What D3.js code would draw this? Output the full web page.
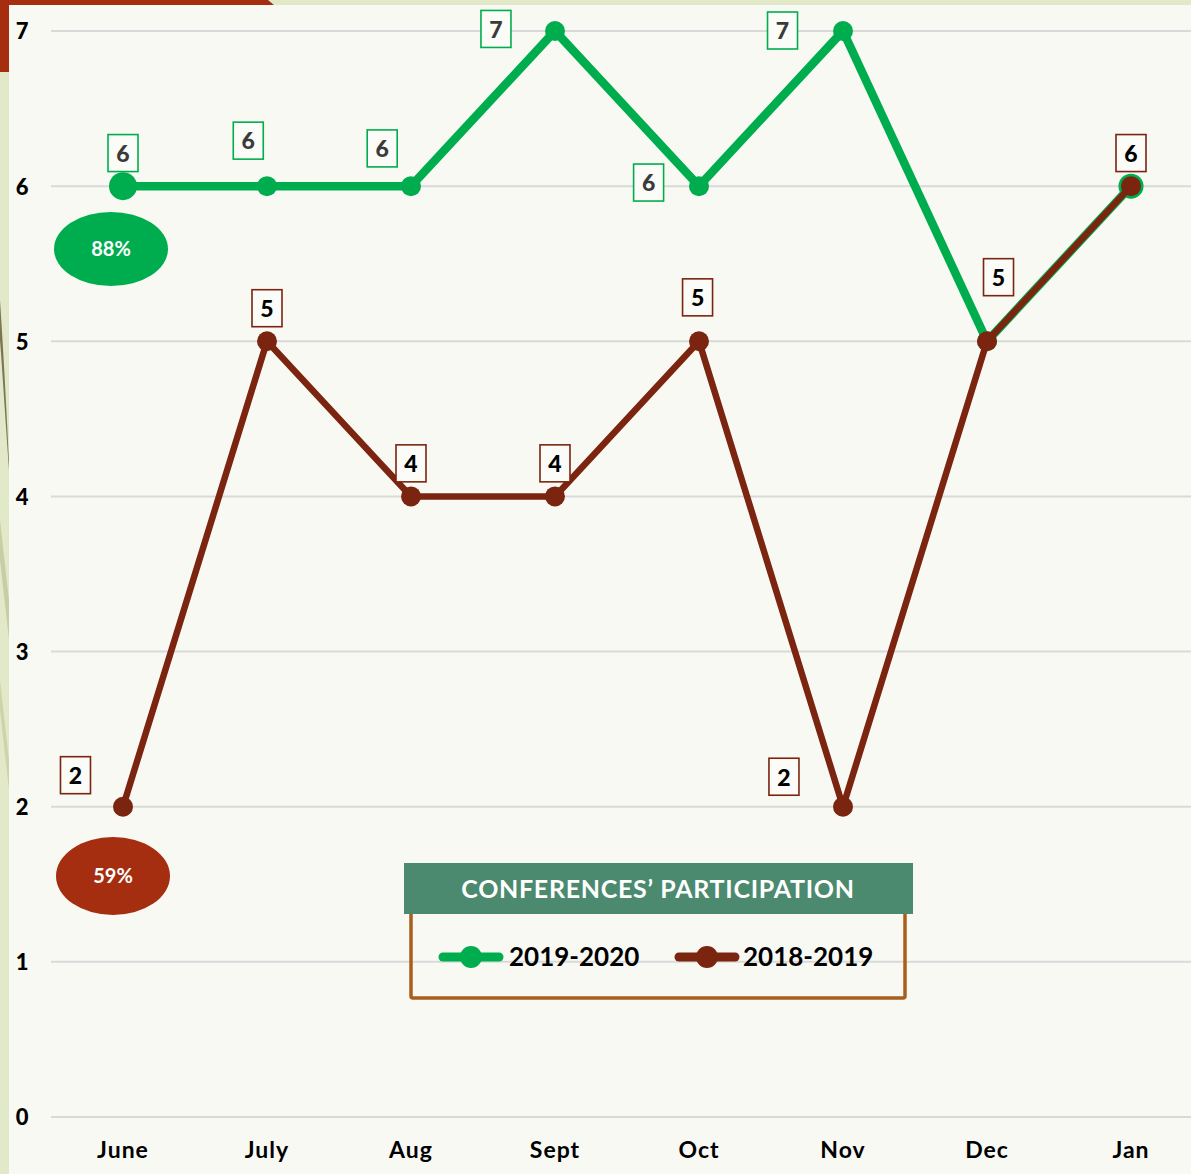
<!DOCTYPE html>
<html><head><meta charset="utf-8">
<script src="https://cdn.jsdelivr.net/npm/d3@7/dist/d3.min.js"></script>
<style>
html,body{margin:0;padding:0;background:#e2e9c9;}
svg{display:block;}
svg text{font-family:"Lato","Open Sans",sans-serif;}
</style></head>
<body>
<script>
const categories = ["June","July","Aug","Sept","Oct","Nov","Dec","Jan"];
const seriesNames = ["2019-2020","2018-2019"];
const values2019_2020 = [6,6,6,7,6,7,5,6];
const values2018_2019 = [2,5,4,4,5,2,5,6];
const yTicks = [0,1,2,3,4,5,6,7];
// label offsets (dx: fraction of band, dy: value units)
const labelOffsetsGreen = [[0,0.21],[-0.13,0.29],[-0.2,0.24],[-0.41,0.01],[-0.35,0.02],[-0.42,0],[null,null],[null,null]];
const labelOffsetsBrown = [[-0.33,0.2],[0,0.21],[0,0.21],[0,0.21],[-0.01,0.28],[-0.41,0.19],[0.08,0.41],[0,0.21]];
const summaryPct = ["88%","59%"];
const legendTitle = "CONFERENCES’ PARTICIPATION";

const W = 1191, H = 1174;
const GREEN = "#00ad4e", BROWN = "#7b2410";
const svg = d3.select("body").append("svg").attr("width",W).attr("height",H);

// background decorations
svg.append("rect").attr("x",0).attr("y",0).attr("width",W).attr("height",H).attr("fill","#e2e9c9");
const deco = svg.append("g");
deco.append("path").attr("d","M0,300 C4,360 7,420 9,460 L9,470 C6,430 3,380 0,340Z").attr("fill","#7d7556");
deco.append("path").attr("d","M0,520 L9,600 L9,640 L0,560Z").attr("fill","#c9cda6");
deco.append("path").attr("d","M0,680 L9,760 L9,790 L0,710Z").attr("fill","#cfd3ad");
svg.append("rect").attr("x",9).attr("y",5).attr("width",W-9).attr("height",H-5).attr("fill","#f9f9f4");
svg.append("path").attr("d","M0,0 L268,0 L274,5 L9,5 L9,72 L0,72Z").attr("fill","#a52d10");

const x = d3.scaleBand().domain(categories).range([51,1203]);
const cx = c => x(c) + x.bandwidth()/2;
const y = d3.scaleLinear().domain([0,7]).range([1117,31]);

// grid
svg.append("g").selectAll("line").data(yTicks).join("line")
  .attr("x1",51).attr("x2",W).attr("y1",d=>y(d)).attr("y2",d=>y(d))
  .attr("stroke","#d9d9d9").attr("stroke-width",2);

// y axis
const yAxis = svg.append("g").attr("transform","translate(31,0)")
  .call(d3.axisLeft(y).tickValues(yTicks).tickSize(0).tickPadding(0).tickFormat(d3.format("d")));
yAxis.attr("font-family",null);
yAxis.select(".domain").remove();
yAxis.selectAll("text").attr("font-size",22).attr("font-weight","900").attr("fill","#000")
  .attr("text-anchor","middle").attr("x",-9).attr("dy","0.36em");

// x axis
const xAxis = svg.append("g").attr("transform","translate(0,1150)")
  .call(d3.axisBottom(x).tickSize(0).tickPadding(0));
xAxis.attr("font-family",null);
xAxis.select(".domain").remove();
xAxis.selectAll("text").attr("font-size",23).attr("font-weight","bold").attr("fill","#000")
  .attr("letter-spacing",1).attr("dy","0.36em").attr("y",0);

const line = d3.line().x((d,i)=>cx(categories[i])).y(d=>y(d));

// green series
svg.append("path").datum(values2019_2020).attr("d",line).attr("fill","none")
  .attr("stroke",GREEN).attr("stroke-width",8.5).attr("stroke-linejoin","round");
svg.append("g").selectAll("circle").data(values2019_2020).join("circle")
  .attr("cx",(d,i)=>cx(categories[i])).attr("cy",d=>y(d)).attr("r",(d,i)=>i===0?14:(i===7?12.5:10)).attr("fill",GREEN);

// brown series
svg.append("path").datum(values2018_2019).attr("d",line).attr("fill","none")
  .attr("stroke",BROWN).attr("stroke-width",6.5).attr("stroke-linejoin","round");
svg.append("g").selectAll("circle").data(values2018_2019).join("circle")
  .attr("cx",(d,i)=>cx(categories[i])).attr("cy",d=>y(d)).attr("r",10).attr("fill",BROWN);

// data labels
function labels(vals, offs, color, textColor){
  const g = svg.append("g");
  vals.forEach((v,i)=>{
    if(offs[i][0]===null) return;
    const px = cx(categories[i]) + offs[i][0]*x.bandwidth();
    const py = y(v + offs[i][1]);
    g.append("rect").attr("x",px-15).attr("y",py-19).attr("width",30).attr("height",37)
      .attr("fill","#fbfbf7").attr("stroke",color).attr("stroke-width",1.6);
    g.append("text").attr("x",px).attr("y",py).attr("dy","0.36em").attr("text-anchor","middle")
      .attr("font-size",23).attr("font-weight","900").attr("fill",textColor).text(d3.format("d")(v));
  });
}
labels(values2019_2020, labelOffsetsGreen, GREEN, "#3a3a3a");
labels(values2018_2019, labelOffsetsBrown, BROWN, "#000");

// summary ovals
const ov = [[GREEN, 111, 249, 57, 37],["#a52d10", 113, 876, 57, 39]];
ov.forEach((o,i)=>{
  svg.append("ellipse").attr("cx",o[1]).attr("cy",o[2]).attr("rx",o[3]).attr("ry",o[4]).attr("fill",o[0]);
  svg.append("text").attr("x",o[1]).attr("y",o[2]).attr("dy","0.36em").attr("text-anchor","middle")
    .attr("font-size",20).attr("font-weight","bold").attr("fill","#fff").text(summaryPct[i]);
});

// legend
const lg = svg.append("g");
lg.append("rect").attr("x",411).attr("y",911).attr("width",494).attr("height",87).attr("rx",2)
  .attr("fill","none").attr("stroke","#a85f1b").attr("stroke-width",3.5);
lg.append("rect").attr("x",404).attr("y",863).attr("width",509).attr("height",51).attr("fill","#4b8a6f");
lg.append("text").attr("x",658).attr("y",889).attr("dy","0.36em").attr("text-anchor","middle")
  .attr("font-size",25).attr("font-weight","bold").attr("fill","#fff").attr("letter-spacing",0.7).text(legendTitle);
const items = [[GREEN,441,509],[BROWN,677,743]];
items.forEach((it,i)=>{
  lg.append("line").attr("x1",it[1]+2).attr("x2",it[1]+58).attr("y1",957).attr("y2",957)
    .attr("stroke",it[0]).attr("stroke-width",9).attr("stroke-linecap","round");
  lg.append("circle").attr("cx",it[1]+30).attr("cy",957).attr("r",11).attr("fill",it[0]);
  lg.append("text").attr("x",it[2]).attr("y",957).attr("dy","0.36em")
    .attr("font-size",26).attr("font-weight","bold").attr("fill","#000").text(seriesNames[i]);
});
</script>
</body></html>
